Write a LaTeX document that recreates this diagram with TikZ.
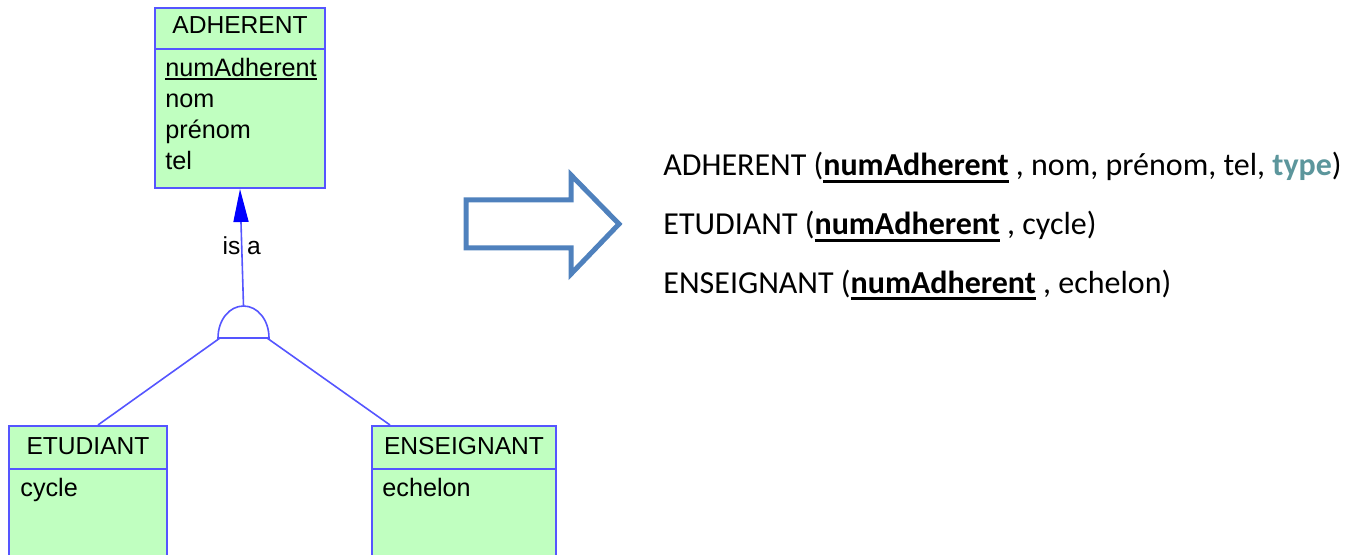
\documentclass[tikz,border=0pt]{standalone}
\usepackage{fontspec}
\usetikzlibrary{arrows.meta}
\newfontfamily\umlfont{Liberation Sans}
\newfontfamily\relfont{Carlito}
\definecolor{umlbord}{RGB}{85,85,255}
\definecolor{umlfill}{RGB}{192,255,192}
\definecolor{flecheb}{RGB}{79,129,189}
\definecolor{typec}{RGB}{92,150,156}
% souligne une cle : [profondeur][epaisseur]{texte}
\newcommand{\cle}[3]{\setbox0\hbox{#3}\rlap{\rule[-#1]{\wd0}{#2}}\box0}
\tikzset{
	classbox/.style={draw=umlbord, fill=umlfill, line width=1pt, rectangle, inner sep=0pt},
	classline/.style={draw=umlbord, line width=1pt},
	title/.style={font=\umlfont\fontsize{12.3}{14}\selectfont, anchor=base},
	attr/.style={font=\umlfont\fontsize{12.6}{14}\selectfont, anchor=base west, inner sep=0pt},
	link/.style={draw=umlbord, line width=0.8pt},
	rel/.style={font=\relfont\fontsize{16}{19}\selectfont, anchor=base west, inner sep=0pt}
}
\begin{document}
\begin{tikzpicture}[x=0.5pt, y=-0.5pt]
		\useasboundingbox (0,0) rectangle (1358,555);
		\clip (0,0) rectangle (1358,555);
		% classes
		\node[classbox, minimum width=85pt, minimum height=90pt] (adherent) at (240,98) {};
		\node[classbox, minimum width=79pt, minimum height=87pt] (etudiant) at (88,513) {};
		\node[classbox, minimum width=92pt, minimum height=87pt] (enseignant) at (464,513) {};
		\draw[classline] (155,49) -- (325,49)
			(9,469) -- (167,469)
			(372,469) -- (556,469);
		\node[title] (adh-t) at (240,34) {ADHERENT};
		\node[attr] (adh-a1) at (165,77) {\cle{1.6pt}{1pt}{numAdherent}};
		\node[attr] (adh-a2) at (165,108) {nom};
		\node[attr] (adh-a3) at (165,139) {prénom};
		\node[attr] (adh-a4) at (165,170) {tel};
		\node[title] (etu-t) at (88,454) {ETUDIANT};
		\node[attr] (etu-a1) at (20,496) {cycle};
		\node[title] (ens-t) at (464,454) {ENSEIGNANT};
		\node[attr] (ens-a1) at (382,496) {echelon};
		% heritage
		\coordinate (isa-top) at (243.5,306);
		\coordinate (isa-l) at (220,338);
		\coordinate (isa-r) at (267,338);
		\draw[link] (218,338) .. controls (218,320) and (229.4,306) .. (isa-top)
			.. controls (257.6,306) and (269,320) .. (269,338) -- cycle;
		\draw[link, -{Triangle[length=16.5pt, width=7.5pt, fill=blue, color=blue]}] (isa-top)
			-- node[font=\umlfont\fontsize{12.3}{14}\selectfont, yshift=1pt] {is a} (adherent.south);
		\coordinate (etu-in) at (98,425);
		\coordinate (ens-in) at (390,425);
		\draw[link] (isa-l) -- (etu-in);
		\draw[link] (isa-r) -- (ens-in);
		% fleche
		\draw[flecheb, line width=2.5pt, line join=miter] (466,200) -- (571,200) -- (571,175)
			-- (619,224) -- (571,274) -- (571,248) -- (466,248) -- cycle;
		% schema relationnel
		\node[rel] (r-adh) at (663,176) {ADHERENT (\textbf{\cle{3.5pt}{1.4pt}{numAdherent}} , nom, prénom, tel, \textcolor{typec}{\textbf{type}})};
		\node[rel] (r-etu) at (663,235) {ETUDIANT (\textbf{\cle{3.5pt}{1.4pt}{numAdherent}} , cycle)};
		\node[rel] (r-ens) at (663,293) {ENSEIGNANT (\textbf{\cle{3.5pt}{1.4pt}{numAdherent}} , echelon)};
\end{tikzpicture}
\end{document}
